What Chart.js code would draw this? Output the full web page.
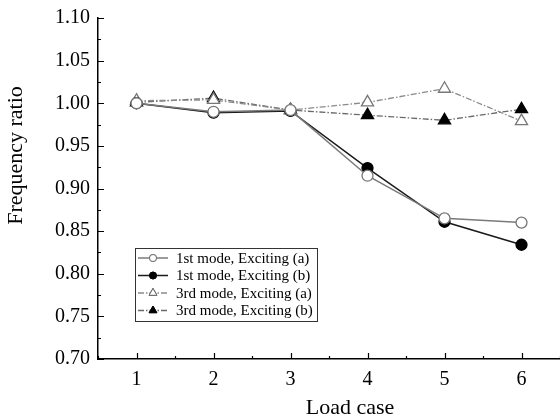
<!DOCTYPE html>
<html><head><meta charset="utf-8">
<script src="https://cdn.jsdelivr.net/npm/chart.js@4.4.1/dist/chart.umd.min.js"></script>
<style>html,body{margin:0;padding:0;background:#fff}#wrap{width:560px;height:420px}</style>
</head><body><div id="wrap"><canvas id="c" width="560" height="420"></canvas></div>
<script>
const loadCases = [1, 2, 3, 4, 5, 6];
const mode1A = [1.000, 0.990, 0.992, 0.915, 0.865, 0.860];
const mode1B = [1.000, 0.989, 0.991, 0.924, 0.861, 0.834];
const mode3A = [1.003, 1.004, 0.992, 1.001, 1.017, 0.979];
const mode3B = [1.001, 1.006, 0.992, 0.986, 0.980, 0.993];
const seriesNames = ['1st mode, Exciting (a)', '1st mode, Exciting (b)', '3rd mode, Exciting (a)', '3rd mode, Exciting (b)'];
const yTicks = [0.70, 0.75, 0.80, 0.85, 0.90, 0.95, 1.00, 1.05, 1.10];
const xTitle = 'Load case';
const yTitle = 'Frequency ratio';

const FONT = '"Liberation Serif", "Times New Roman", serif';
const toPts = arr => arr.map((v, i) => ({x: loadCases[i], y: v}));

const styles = [
  {color: '#7a7a7a', fill: '#ffffff', shape: 'circle', r: 5.5, dash: [], w: 1.5},
  {color: '#1a1a1a', fill: '#000000', shape: 'circle', r: 5.5, dash: [], w: 1.5},
  {color: '#8a8a8a', fill: '#ffffff', shape: 'triangle', r: 7, dash: [6, 2, 1.5, 2], w: 1.3},
  {color: '#6a6a6a', fill: '#000000', shape: 'triangle', r: 7, dash: [6, 2, 1.5, 2], w: 1.3}
];
const values = [mode1A, mode1B, mode3A, mode3B];

const datasets = values.map((v, i) => ({
  label: seriesNames[i],
  data: toPts(v),
  borderColor: styles[i].color,
  borderWidth: styles[i].w,
  borderDash: styles[i].dash,
  pointStyle: styles[i].shape,
  pointRadius: styles[i].r,
  pointBackgroundColor: styles[i].fill,
  pointBorderColor: styles[i].fill === '#000000' ? '#000' : '#777',
  pointBorderWidth: 1.3,
  tension: 0,
  fill: false
}));

const tickPlugin = {
  id: 'inTicks',
  afterDraw(chart) {
    const ctx = chart.ctx, xs = chart.scales.x, ys = chart.scales.y;
    const a = chart.chartArea;
    ctx.save();
    ctx.strokeStyle = '#000';
    ctx.lineWidth = 1.2;
    ctx.beginPath();
    for (let v = 0.5; v <= 6.5001; v += 0.5) {
      const px = Math.round(xs.getPixelForValue(v)) + 0.5;
      const major = Math.abs(v - Math.round(v)) < 1e-6;
      const len = major ? 6 : 3;
      ctx.moveTo(px, a.bottom); ctx.lineTo(px, a.bottom - len);
    }
    for (let k = 0; k <= 16; k++) {
      const v = 0.70 + k * 0.025;
      const py = Math.round(ys.getPixelForValue(v)) + 0.5;
      const len = k % 2 === 0 ? 6 : 3;
      ctx.moveTo(a.left, py); ctx.lineTo(a.left + len, py);
    }
    ctx.stroke();
    // axis titles
    ctx.fillStyle = '#000';
    ctx.font = '22px ' + FONT;
    ctx.textAlign = 'center';
    ctx.textBaseline = 'middle';
    ctx.fillText(xTitle, (a.left + a.right) / 2 + 21, 408);
    ctx.save();
    ctx.translate(16, (a.top + a.bottom) / 2 - 33);
    ctx.rotate(-Math.PI / 2);
    ctx.fillText(yTitle, 0, 0);
    ctx.restore();
    // legend
    ctx.textAlign = 'left';
    const lx = a.left + 37, ly = a.top + 230, lw = 182, lh = 73;
    ctx.fillStyle = '#fff';
    ctx.fillRect(lx, ly, lw, lh);
    ctx.strokeStyle = '#333';
    ctx.lineWidth = 1;
    ctx.strokeRect(lx + 0.5, ly + 0.5, lw, lh);
    ctx.font = '15px ' + FONT;
    ctx.textBaseline = 'middle';
    chart.data.datasets.forEach((ds, i) => {
      const cy = ly + 10 + i * 17.5;
      ctx.save();
      ctx.strokeStyle = ds.borderColor;
      ctx.lineWidth = ds.borderWidth;
      ctx.setLineDash(ds.borderDash);
      ctx.beginPath(); ctx.moveTo(lx + 3, cy); ctx.lineTo(lx + 33, cy); ctx.stroke();
      ctx.restore();
      Chart.helpers.drawPoint(ctx, {
        pointStyle: ds.pointStyle, radius: i < 2 ? 3.5 : 4.5, rotation: 0, borderWidth: 1
      }, lx + 18, cy);
      ctx.fillStyle = ds.pointBackgroundColor;
      ctx.strokeStyle = ds.pointBorderColor;
      ctx.fill(); ctx.stroke();
      ctx.fillStyle = '#000';
      ctx.fillText(ds.label, lx + 41, cy + 1);
    });
    ctx.restore();
  }
};

new Chart(document.getElementById('c'), {
  type: 'line',
  data: {datasets},
  plugins: [tickPlugin],
  options: {
    responsive: false,
    animation: false,
    layout: {autoPadding: false, padding: {left: 47, right: 0, top: 3, bottom: 19}},
    plugins: {legend: {display: false}, tooltip: {enabled: false}},
    scales: {
      x: {
        type: 'linear', min: 0.5, max: 6.5,
        afterBuildTicks: s => { s.ticks = loadCases.map(v => ({value: v})); },
        afterFit: s => { s.paddingRight = 0; s.paddingLeft = 0; },
        ticks: {color: '#000', font: {family: FONT, size: 20, lineHeight: 1.0}, padding: 11, maxRotation: 0,
          callback: v => String(v)},
        grid: {display: false, drawTicks: false},
        border: {display: true, color: '#000', width: 1.5},
        title: {display: false}
      },
      y: {
        type: 'linear', min: 0.70, max: 1.10,
        afterBuildTicks: s => { s.ticks = yTicks.map(v => ({value: v})); },
        ticks: {color: '#000', font: {family: FONT, size: 20, lineHeight: 1.0}, padding: 8,
          callback: v => Number(v).toFixed(2)},
        grid: {display: false, drawTicks: false},
        border: {display: true, color: '#000', width: 1.5},
        title: {display: false}
      }
    }
  }
});
</script></body></html>
